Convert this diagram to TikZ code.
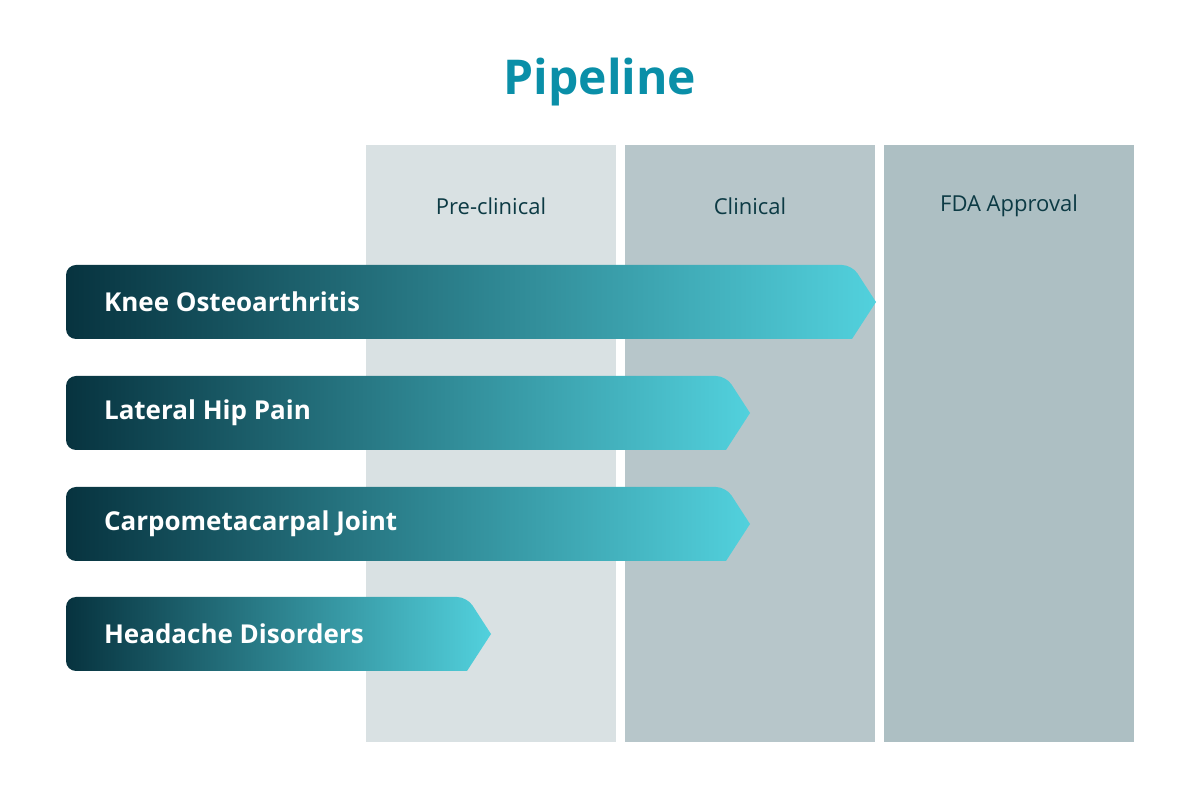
\documentclass[tikz,border=0pt]{standalone}
\usepackage{fontspec}
\setmainfont{Open Sans}
\definecolor{titre}{HTML}{0A8FA8}
\definecolor{sombre}{HTML}{0C3A44}
\definecolor{colA}{HTML}{D9E1E3}
\definecolor{colB}{HTML}{B7C6CA}
\definecolor{colC}{HTML}{ADBFC3}
\definecolor{gradG}{HTML}{07333F}
\definecolor{gradM}{HTML}{0A8FA8}
\definecolor{gradD}{HTML}{52D1DD}
\tikzset{
  phase/.style={font=\fontsize{11}{13}\selectfont,text=sombre},
  barre/.style={left color=gradG,middle color=gradM,right color=gradD,shading angle=90},
  etiquette/.style={anchor=west,text=white,font=\fontsize{13}{15}\selectfont\bfseries}
}
\newcommand\fleche[4]{% #1 haut, #2 fin du corps, #3 pointe, #4 nom
  \shade[barre,rounded corners=5] (66,#1) -- (#2,#1) [sharp corners] -- (#3,#1+37) -- (#2,#1+74) [rounded corners=5] -- (66,#1+74) -- cycle;
  \coordinate (#4) at (97,#1+37);
}
\begin{document}
\begin{tikzpicture}[x=0.5pt,y=-0.5pt]
\useasboundingbox (0,0) rectangle (1200,801);
\fill[white] (0,0) rectangle (1200,801);

\node[text=titre,font=\fontsize{24}{28}\selectfont\bfseries] (titre) at (600,82) {Pipeline};

\fill[colA] (366,145) rectangle (616,742);%les colonnes
\fill[colB] (625,145) rectangle (875,742);
\fill[colC] (884,145) rectangle (1134,742);
\node[phase] (pre) at (491,206) {Pre-clinical};
\node[phase] (clin) at (750,206) {Clinical};
\node[phase] (fda) at (1009,206) {FDA Approval};

\fleche{265}{852}{876}{k}
\node[etiquette] (knee) at (k) {Knee Osteoarthritis};
\fleche{376}{726}{750}{h}
\node[etiquette] (hip) at (h) {Lateral Hip Pain};
\fleche{487}{726}{750}{c}
\node[etiquette] (cmc) at (c) {Carpometacarpal Joint};
\fleche{597}{467}{491}{d}
\node[etiquette] (head) at (d) {Headache Disorders};
\end{tikzpicture}
\end{document}
